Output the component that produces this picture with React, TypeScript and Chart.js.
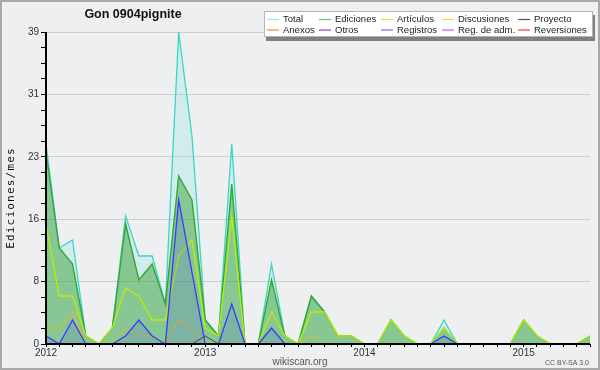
import { useEffect, useRef } from 'react';
import { Chart, registerables } from 'chart.js';

Chart.register(...registerables);

const chartTitle = 'Gon 0904pignite';
const yAxisTitle = 'Ediciones/mes';
const siteLabel = 'wikiscan.org';
const licenseLabel = 'CC BY-SA 3.0';

const months = [
  '2012-01', '2012-02', '2012-03', '2012-04', '2012-05', '2012-06', '2012-07', '2012-08', '2012-09', '2012-10', '2012-11', '2012-12',
  '2013-01', '2013-02', '2013-03', '2013-04', '2013-05', '2013-06', '2013-07', '2013-08', '2013-09', '2013-10', '2013-11', '2013-12',
  '2014-01', '2014-02', '2014-03', '2014-04', '2014-05', '2014-06', '2014-07', '2014-08', '2014-09', '2014-10', '2014-11', '2014-12',
  '2015-01', '2015-02', '2015-03', '2015-04', '2015-05', '2015-06',
];

const total = [25, 12, 13, 1, 0, 2, 16, 11, 11, 5, 39, 26, 3, 1, 25, 0, 0, 10, 1, 0, 6, 4, 1, 1, 0, 0, 3, 1, 0, 0, 3, 0, 0, 0, 0, 0, 3, 1, 0, 0, 0, 1];
const ediciones = [24, 12, 10, 1, 0, 2, 15, 8, 10, 5, 21, 18, 3, 1, 20, 0, 0, 8, 1, 0, 6, 4, 1, 1, 0, 0, 3, 1, 0, 0, 2, 0, 0, 0, 0, 0, 3, 1, 0, 0, 0, 1];
const articulos = [15, 6, 6, 1, 0, 2, 7, 6, 3, 3, 11, 13, 2, 1, 16, 0, 0, 4, 1, 0, 4, 4, 1, 1, 0, 0, 3, 1, 0, 0, 2, 0, 0, 0, 0, 0, 3, 1, 0, 0, 0, 1];
const discusiones = [2, 2, 4, 0, 0, 0, 2, 1, 1, 0, 3, 2, 0, 0, 0, 0, 0, 0, 0, 0, 1, 0, 0, 0, 0, 0, 0, 0, 0, 0, 0, 0, 0, 0, 0, 0, 0, 0, 0, 0, 0, 0];
const proyecto = [0, 0, 0, 0, 0, 0, 0, 0, 0, 0, 0, 0, 1, 0, 0, 0, 0, 0, 0, 0, 0, 0, 0, 0, 0, 0, 0, 0, 0, 0, 0, 0, 0, 0, 0, 0, 0, 0, 0, 0, 0, 0];
const anexos = [0, 0, 0, 0, 0, 0, 0, 0, 0, 0, 0, 0, 0, 0, 0, 0, 0, 0, 0, 0, 0, 0, 0, 0, 0, 0, 0, 0, 0, 0, 0, 0, 0, 0, 0, 0, 0, 0, 0, 0, 0, 0];
const otros = [0, 0, 0, 0, 0, 0, 0, 0, 0, 0, 0, 0, 0, 0, 0, 0, 0, 0, 0, 0, 0, 0, 0, 0, 0, 0, 0, 0, 0, 0, 0, 0, 0, 0, 0, 0, 0, 0, 0, 0, 0, 0];
const registros = [1, 0, 3, 0, 0, 0, 1, 3, 1, 0, 18, 9, 0, 0, 5, 0, 0, 2, 0, 0, 0, 0, 0, 0, 0, 0, 0, 0, 0, 0, 1, 0, 0, 0, 0, 0, 0, 0, 0, 0, 0, 0];
const regAdm = [0, 0, 0, 0, 0, 0, 0, 0, 0, 0, 0, 0, 0, 0, 0, 0, 0, 0, 0, 0, 0, 0, 0, 0, 0, 0, 0, 0, 0, 0, 0, 0, 0, 0, 0, 0, 0, 0, 0, 0, 0, 0];
const reversiones = [0, 0, 0, 0, 0, 0, 0, 0, 0, 0, 0, 0, 0, 0, 0, 0, 0, 0, 0, 0, 0, 0, 0, 0, 0, 0, 0, 0, 0, 0, 0, 0, 0, 0, 0, 0, 0, 0, 0, 0, 0, 0];

const seriesLabels = ['Total', 'Ediciones', 'Artículos', 'Discusiones', 'Proyecto', 'Anexos', 'Otros', 'Registros', 'Reg. de adm.', 'Reversiones'];
const yTickLabels = ['0', '8', '16', '23', '31', '39'];
const yMax = 39;

const FONT = '"Liberation Sans", Arial, sans-serif';

export default function App() {
  const ref = useRef<HTMLCanvasElement>(null);

  useEffect(() => {
    document.body.style.margin = '0';
    const canvas = ref.current!;
    const seriesData = [total, ediciones, articulos, discusiones, proyecto, anexos, otros, registros, regAdm, reversiones];
    const colors = ['#3ad6c6', '#36a636', '#bcee00', '#f0b820', '#404040', '#ff7f40', '#8a2be2', '#3838ff', '#e040e0', '#ff3030'];
    const legendColors = ['#9ee8e0', '#6cc46c', '#c8f040', '#ffd040', '#555555', '#ff8040', '#9040e0', '#7070ff', '#e050f0', '#ff3838'];
    const fills: (string | false)[] = ['rgba(64,224,208,0.16)', 'rgba(48,158,48,0.47)', false, false, false, false, false, 'rgba(64,64,255,0.15)', false, false];
    const widths = [1.3, 1.4, 1.3, 1, 1, 1, 1, 1.3, 1, 1];

    const datasets = seriesLabels.map((label, i) => ({
      label,
      data: seriesData[i],
      borderColor: colors[i],
      backgroundColor: fills[i] || colors[i],
      fill: fills[i] ? 'origin' : false,
      borderWidth: widths[i],
      pointRadius: 0,
      pointHoverRadius: 0,
      tension: 0,
      order: 10 - i,
    }));

    const decor = {
      id: 'decor',
      beforeDraw(chart: any) {
        const ctx = chart.ctx;
        ctx.save();
        ctx.fillStyle = '#eeeff0';
        ctx.fillRect(0, 0, chart.width, chart.height);
        ctx.restore();
      },
      afterDatasetsDraw(chart: any) {
        const ctx = chart.ctx;
        const a = chart.chartArea;
        ctx.save();
        ctx.strokeStyle = '#000';
        ctx.lineWidth = 2;
        ctx.beginPath();
        ctx.moveTo(a.left, a.top);
        ctx.lineTo(a.left, a.bottom);
        ctx.lineTo(a.right, a.bottom);
        ctx.stroke();
        ctx.restore();
      },
      afterDraw(chart: any) {
        const ctx = chart.ctx;
        const a = chart.chartArea;
        ctx.save();
        // title
        ctx.fillStyle = '#111';
        ctx.font = `bold 12.5px ${FONT}`;
        ctx.textAlign = 'center';
        ctx.textBaseline = 'alphabetic';
        ctx.fillText(chartTitle, 133, 18);

        // y axis title
        ctx.save();
        ctx.translate(14, (a.top + a.bottom) / 2 + 10);
        ctx.rotate(-Math.PI / 2);
        ctx.font = '11px "DejaVu Sans Mono", monospace';
        (ctx as any).letterSpacing = '1.2px';
        ctx.fillStyle = '#111';
        ctx.textAlign = 'center';
        ctx.textBaseline = 'alphabetic';
        ctx.fillText(yAxisTitle, 0, 0);
        ctx.restore();

        // legend box
        const bx = 264, by = 11, bw = 329, bh = 26;
        ctx.fillStyle = '#808080';
        ctx.fillRect(bx + 2, by + 4, bw, bh);
        ctx.fillStyle = '#ffffff';
        ctx.fillRect(bx, by, bw, bh);
        ctx.strokeStyle = '#b4b4b4';
        ctx.lineWidth = 1;
        ctx.strokeRect(bx + 0.5, by + 0.5, bw - 1, bh - 1);
        const colX = [267, 319, 381, 442, 518];
        const rowY = [19.5, 30];
        ctx.font = `9.5px ${FONT}`;
        ctx.textAlign = 'left';
        ctx.textBaseline = 'middle';
        seriesLabels.forEach((label, i) => {
          const x = colX[i % 5];
          const y = rowY[Math.floor(i / 5)];
          ctx.strokeStyle = legendColors[i];
          ctx.lineWidth = 1.2;
          ctx.beginPath();
          ctx.moveTo(x, y);
          ctx.lineTo(x + 12, y);
          ctx.stroke();
          ctx.fillStyle = '#222';
          ctx.fillText(label, x + 16, y);
        });

        // footer
        ctx.fillStyle = '#555';
        ctx.textBaseline = 'alphabetic';
        ctx.textAlign = 'center';
        ctx.font = `10px ${FONT}`;
        ctx.fillText(siteLabel, 300, 365);
        ctx.textAlign = 'right';
        ctx.font = `7px ${FONT}`;
        ctx.fillText(licenseLabel, 589, 365);

        // outer border
        ctx.strokeStyle = '#a8a8a8';
        ctx.lineWidth = 2;
        ctx.strokeRect(1, 1, chart.width - 2, chart.height - 2);
        ctx.restore();
      },
    };

    const chart = new Chart(canvas, {
      type: 'line',
      data: { labels: months, datasets: datasets as any },
      options: {
        responsive: false,
        animation: false,
        devicePixelRatio: 1,
        layout: { padding: { left: 0, right: 10, top: 32, bottom: 0 } },
        plugins: {
          legend: { display: false },
          title: { display: false },
          tooltip: { enabled: false },
        },
        scales: {
          x: {
            type: 'category',
            offset: false,
            border: { display: false },
            grid: { drawOnChartArea: false, drawTicks: true, tickLength: 3, tickColor: '#000' },
            ticks: {
              autoSkip: false,
              maxRotation: 0,
              minRotation: 0,
              padding: 0,
              color: '#333',
              font: { family: FONT, size: 10 },
              callback: (_v: any, i: number) => (months[i].endsWith('-01') ? months[i].slice(0, 4) : ''),
            },
            afterFit: (s: any) => { s.height = 26; },
          },
          y: {
            type: 'linear',
            min: 0,
            max: yMax,
            border: { display: false },
            afterBuildTicks: (s: any) => {
              const step = yMax / ((yTickLabels.length - 1) * 4);
              s.ticks = Array.from({ length: (yTickLabels.length - 1) * 4 + 1 }, (_, i) => ({ value: i * step }));
            },
            grid: {
              color: (c: any) => (c.index % 4 === 0 && c.index > 0 ? '#cdcdcd' : 'rgba(0,0,0,0)'),
              tickColor: '#000',
              tickLength: 5,
              drawTicks: true,
            },
            ticks: {
              autoSkip: false,
              padding: 2,
              color: '#333',
              font: { family: FONT, size: 10 },
              callback: (_v: any, i: number) => (i % 4 === 0 ? yTickLabels[i / 4] : ''),
            },
            afterFit: (s: any) => { s.width = 46; },
          },
        },
      } as any,
      plugins: [decor],
    });
    return () => chart.destroy();
  }, []);

  return <canvas ref={ref} width={600} height={370} style={{ display: 'block', width: 600, height: 370 }} />;
}
